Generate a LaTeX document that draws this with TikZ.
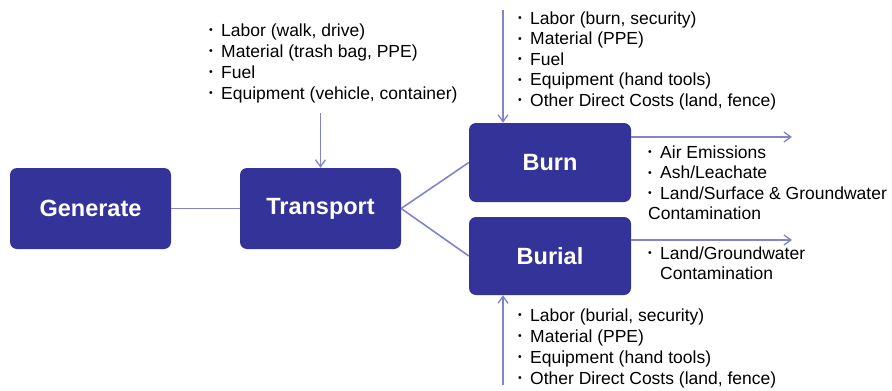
\documentclass[tikz,border=0pt]{standalone}
\usepackage{fontspec}
\setmainfont{Liberation Sans}
\usetikzlibrary{arrows.meta}
\definecolor{boxblue}{RGB}{51,51,153}
\definecolor{linecol}{RGB}{130,130,206}
\newcommand{\bul}{\strut\makebox[12pt][l]{\raisebox{0.25ex}{\scalebox{0.6}{\textbullet}}}}
\tikzset{
  stepbox/.style={draw=none, fill=boxblue, rounded corners=7pt, minimum width=161pt, minimum height=80pt, inner sep=0pt, text=white, font=\fontsize{23.5}{28}\selectfont\bfseries},
  conn/.style={draw=linecol, line width=1.6pt},
  arr/.style={conn, -{Straight Barb[length=7pt,width=10pt,line width=1.3pt]}},
  listA/.style={anchor=north west, inner sep=0pt, align=left, font=\fontsize{17.5}{21}\selectfont},
  listB/.style={anchor=north west, inner sep=0pt, align=left, font=\fontsize{17.5}{20.5}\selectfont}
}
\begin{document}
\begin{tikzpicture}[x=1pt,y=-1pt]
\useasboundingbox (0,0) rectangle (892,391);
% boxes
\node[stepbox, minimum height=81pt] (gen) at (90.5,208.5) {Generate};
\node[stepbox, minimum height=81pt] (trans) at (320.5,208.5) {Transport};
\node[stepbox, minimum width=162pt, minimum height=79pt] (burn) at (550,162.5) {Burn};
\node[stepbox, minimum width=162pt, minimum height=78pt] (burial) at (550,256) {Burial};
% connectors
\draw[conn] (gen) -- (trans);
\draw[conn] (trans.east) -- (burn.west);
\draw[conn] (trans.east) -- (burial.west);
% input arrows
\coordinate (tin) at (320.5,113);
\draw[arr] (tin) -- (trans.north);
\coordinate (bin) at (503,10);
\draw[arr] (bin) -- (bin |- burn.north);
\coordinate (buin) at (503,385);
\draw[arr] (buin) -- (buin |- burial.south);
% output arrows
\coordinate (bout) at (792,137);
\draw[arr] (bout -| burn.east) -- (bout);
\coordinate (buout) at (792,240);
\draw[arr] (buout -| burial.east) -- (buout);
% lists
\node[listA] (tlist) at (209,21.3) {\bul Labor (walk, drive)\\\bul Material (trash bag, PPE)\\\bul Fuel\\\bul Equipment (vehicle, container)};
\node[listB] (blist) at (518,9.6) {\bul Labor (burn, security)\\\bul Material (PPE)\\\bul Fuel\\\bul Equipment (hand tools)\\\bul Other Direct Costs (land, fence)};
\node[listB] (bolist) at (648,143.6) {\bul Air Emissions\\\bul Ash/Leachate\\\bul Land/Surface \& Groundwater\\\strut Contamination};
\node[listB] (buolist) at (648,244.6) {\bul Land/Groundwater\\\strut\hspace{12pt}Contamination};
\node[listA] (bulist) at (518,306.3) {\bul Labor (burial, security)\\\bul Material (PPE)\\\bul Equipment (hand tools)\\\bul Other Direct Costs (land, fence)};
\end{tikzpicture}
\end{document}
